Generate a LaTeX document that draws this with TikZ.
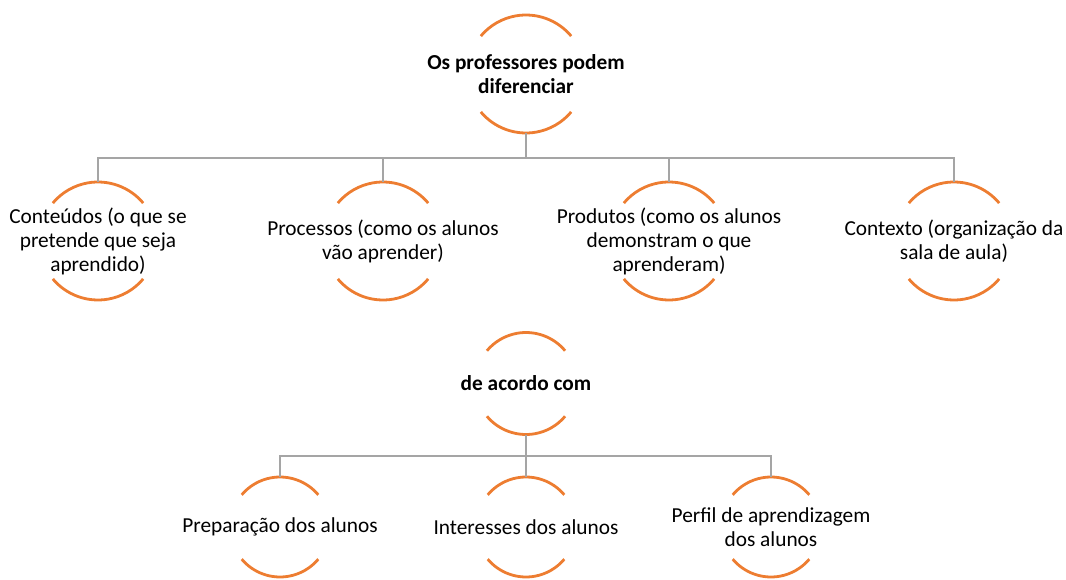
\documentclass[tikz,border=0pt]{standalone}
\usepackage{fontspec}
\setmainfont{Carlito}
\begin{document}
\begin{tikzpicture}[x=0.75pt,y=0.75pt,
  ring/.style={circle,inner sep=0pt,minimum size=#1*0.75pt},
  lbl/.style={align=center,font=\fontsize{16}{18}\selectfont,inner sep=0pt},
  blbl/.style={lbl,font=\fontsize{16}{17.5}\selectfont\bfseries},
  arcline/.style={draw={rgb,255:red,237;green,125;blue,49},line width=2.1pt},
  conn/.style={draw={rgb,255:red,165;green,165;blue,165},line width=2pt}]
\useasboundingbox (0,0) rectangle (1066,579);
% nodes
\node[ring=118,label={[blbl]center:Os professores podem\\diferenciar}] (top) at (526,505) {};
\node[ring=118,label={[lbl]center:Conteúdos (o que se\\pretende que seja\\aprendido)}] (c1) at (98,338) {};
\node[ring=118,label={[lbl]center:Processos (como os alunos\\vão aprender)}] (c2) at (383,338) {};
\node[ring=118,label={[lbl]center:Produtos (como os alunos\\demonstram o que\\aprenderam)}] (c3) at (669,338) {};
\node[ring=118,label={[lbl]center:Contexto (organização da\\sala de aula)}] (c4) at (954,338) {};
\node[ring=102,label={[blbl]center:de acordo com}] (mid) at (526,195.5) {};
\node[ring=100,label={[lbl]center:Preparação dos alunos}] (d1) at (280,52) {};
\node[ring=100,label={[lbl]center:Interesses dos alunos}] (d2) at (526,52) {};
\node[ring=100,label={[lbl]center:Perfil de aprendizagem\\dos alunos}] (d3) at (771,52) {};
% arcs
\foreach \n/\r in {top/59,c1/59,c2/59,c3/59,c4/59,mid/51,d1/50,d2/50,d3/50}{
  \draw[arcline] (\n.center) ++(40:\r) arc (40:140:\r);
  \draw[arcline] (\n.center) ++(220:\r) arc (220:320:\r);
}
% connectors
\coordinate (bar1) at (0,421);
\coordinate (bar2) at (0,123);
\foreach \c in {c1,c2,c3,c4}{
  \draw[conn] (top.south) -- (top.south |- bar1) -| (\c.north);
}
\foreach \c in {d1,d2,d3}{
  \draw[conn] (mid.south) -- (mid.south |- bar2) -| (\c.north);
}
\end{tikzpicture}
\end{document}
